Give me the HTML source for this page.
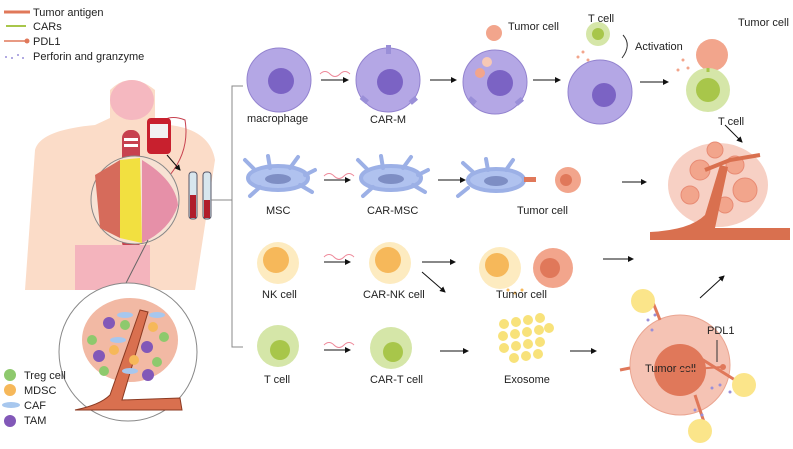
<!DOCTYPE html>
<html><head><meta charset="utf-8"><style>
body{margin:0;background:#fff}
svg{display:block;font-family:"Liberation Sans",Arial,sans-serif}
text{font-size:11px;fill:#222}
</style></head><body>
<svg width="793" height="449" viewBox="0 0 793 449">
<defs>
<marker id="ah" markerWidth="6" markerHeight="6" refX="5" refY="3" orient="auto"><path d="M0,0L6,3L0,6z" fill="#111"/></marker>
</defs>
<!-- legend top -->
<line x1="4" y1="12" x2="30" y2="12" stroke="#e0785a" stroke-width="3"/>
<text x="33" y="16" font-size="9">Tumor antigen</text>
<line x1="6" y1="26" x2="26" y2="26" stroke="#a8c64a" stroke-width="2"/>
<text x="33" y="30" font-size="9">CARs</text>
<line x1="4" y1="41" x2="26" y2="41" stroke="#e0785a" stroke-width="1.5"/><circle cx="27" cy="41" r="2.5" fill="#e0785a"/>
<text x="33" y="45" font-size="9">PDL1</text>
<g fill="#9a8fd8"><circle cx="6" cy="57" r="1"/><circle cx="12" cy="58" r="1"/><circle cx="18" cy="55" r="1"/><circle cx="23" cy="58" r="1"/></g>
<text x="33" y="60" font-size="9">Perforin and granzyme</text>
<!-- body -->
<path d="M25,290 L35,150 Q40,130 95,125 L110,118 L110,90 Q130,70 155,90 L155,118 L170,125 Q210,130 215,160 L195,290 Z" fill="#fbdcc8"/>
<ellipse cx="132" cy="100" rx="22" ry="20" fill="#f5b8c0"/>
<rect x="122" y="130" width="18" height="120" rx="8" fill="#c7414f"/>
<rect x="124" y="138" width="14" height="3" fill="#fff"/><rect x="124" y="144" width="14" height="3" fill="#fff"/>
<rect x="75" y="245" width="75" height="45" fill="#f4b4bd"/>
<path d="M150,140 Q160,110 185,120 Q190,150 170,175" fill="none" stroke="#c7414f" stroke-width="1"/>
<rect x="147" y="118" width="24" height="36" rx="4" fill="#c8202e"/>
<rect x="150" y="124" width="18" height="14" fill="#f2f2f2"/>
<circle cx="135" cy="200" r="44" fill="#f7e2d4" stroke="#888"/>
<path d="M120,160 L140,158 L142,243 L120,238 Z" fill="#f2e040"/>
<path d="M95,175 L120,160 L120,238 L100,228 Z" fill="#d66b5b"/>
<path d="M142,160 Q175,180 178,205 Q170,230 142,243 Z" fill="#e690a8"/>
<line x1="167" y1="155" x2="180" y2="170" stroke="#111" marker-end="url(#ah)"/>
<rect x="189" y="172" width="8" height="47" rx="3" fill="#d8e6ee" stroke="#556"/>
<rect x="203" y="172" width="8" height="47" rx="3" fill="#d8e6ee" stroke="#556"/>
<rect x="190" y="195" width="6" height="23" fill="#b01c2a"/><rect x="204" y="200" width="6" height="18" fill="#b01c2a"/>
<line x1="211" y1="200" x2="232" y2="200" stroke="#888"/>
<!-- bracket -->
<path d="M243,86 L232,86 L232,347 L243,347" fill="none" stroke="#888"/>
<!-- bottom circle -->
<line x1="123" y1="289" x2="148" y2="240" stroke="#666"/>
<circle cx="128" cy="352" r="69" fill="#fff" stroke="#888"/>
<ellipse cx="130" cy="340" rx="48" ry="42" fill="#f2b9a4"/>
<path d="M75,410 Q100,405 110,395 L140,310 L148,312 L122,400 L180,398 L182,410 Z" fill="#d9704f" stroke="#8b3a22"/>
<g fill="#8ec96d"><circle cx="125" cy="325" r="5"/><circle cx="92" cy="340" r="5"/><circle cx="164" cy="337" r="5"/><circle cx="157" cy="362" r="5"/><circle cx="104" cy="371" r="5"/></g>
<g fill="#f6b85a"><circle cx="153" cy="327" r="5"/><circle cx="114" cy="350" r="5"/><circle cx="134" cy="360" r="5"/></g>
<g fill="#8258b8"><circle cx="109" cy="323" r="6"/><circle cx="147" cy="347" r="6"/><circle cx="99" cy="356" r="6"/><circle cx="148" cy="375" r="6"/></g>
<g fill="#a7c7ee"><ellipse cx="125" cy="315" rx="8" ry="3"/><ellipse cx="157" cy="315" rx="8" ry="3"/><ellipse cx="118" cy="340" rx="8" ry="3"/><ellipse cx="130" cy="371" rx="8" ry="3"/></g>
<!-- legend bottom -->
<circle cx="10" cy="375" r="6" fill="#8ec96d"/><text x="24" y="379" font-size="9">Treg cell</text>
<circle cx="10" cy="390" r="6" fill="#f6b85a"/><text x="24" y="394" font-size="9">MDSC</text>
<ellipse cx="11" cy="405" rx="9" ry="3" fill="#a7c7ee"/><text x="24" y="409" font-size="9">CAF</text>
<circle cx="10" cy="421" r="6" fill="#8258b8"/><text x="24" y="424" font-size="9">TAM</text>
<!-- row 1 -->
<g fill="#b4a7e5" stroke="#9383cf"><circle cx="279" cy="80" r="32"/><circle cx="388" cy="80" r="32"/><circle cx="495" cy="82" r="32"/><circle cx="600" cy="92" r="32"/></g>
<g fill="#7b63c4"><circle cx="281" cy="81" r="13"/><circle cx="390" cy="82" r="13"/><circle cx="500" cy="83" r="13"/><circle cx="604" cy="95" r="12"/></g>
<g fill="#9a8fd8"><rect x="386" y="45" width="5" height="9"/><rect x="362" y="96" width="5" height="8" transform="rotate(-50 364 100)"/><rect x="411" y="96" width="5" height="8" transform="rotate(50 413 100)"/><rect x="470" y="97" width="5" height="8" transform="rotate(-50 472 101)"/><rect x="517" y="97" width="5" height="8" transform="rotate(50 519 101)"/></g>
<circle cx="494" cy="33" r="8" fill="#f2a58c"/>
<circle cx="480" cy="73" r="5" fill="#f2a58c"/><circle cx="487" cy="62" r="5" fill="#f7c8b6"/>
<circle cx="598" cy="34" r="12" fill="#d5e6a8"/><circle cx="598" cy="34" r="6" fill="#a8c64a"/>
<path d="M623,35 Q632,45 622,58" fill="none" stroke="#333"/>
<g fill="#f2a58c"><circle cx="583" cy="52" r="1.5"/><circle cx="578" cy="57" r="1.5"/><circle cx="588" cy="60" r="1.5"/><circle cx="683" cy="60" r="1.5"/><circle cx="688" cy="68" r="1.5"/><circle cx="678" cy="70" r="1.5"/></g>
<circle cx="712" cy="55" r="16" fill="#f2a58c"/>
<circle cx="708" cy="90" r="22" fill="#d5e6a8"/><circle cx="708" cy="90" r="12" fill="#a8c64a"/>
<line x1="708" y1="68" x2="708" y2="72" stroke="#a8c64a" stroke-width="3"/>
<text x="247" y="122">macrophage</text><text x="370" y="123">CAR-M</text>
<text x="508" y="30">Tumor cell</text><text x="588" y="22">T cell</text><text x="635" y="50">Activation</text>
<text x="738" y="26">Tumor cell</text><text x="718" y="125">T cell</text>
<!-- row 2 -->
<g fill="#b0c2ef" stroke="#9cb0e6" stroke-width="4" stroke-linecap="round">
<ellipse cx="278" cy="178" rx="30" ry="12"/><ellipse cx="391" cy="178" rx="30" ry="12"/><ellipse cx="496" cy="180" rx="28" ry="11"/>
<path d="M255,170 L245,160 M270,168 L268,156 M290,168 L298,157 M305,175 L315,170 M300,185 L312,192 M260,187 L250,196"/>
<path d="M368,170 L358,160 M383,168 L381,156 M403,168 L411,157 M418,175 L428,170 M413,185 L425,192 M373,187 L363,196"/>
<path d="M473,172 L463,163 M488,170 L486,159 M506,170 L513,160 M468,188 L458,196"/>
</g>
<g fill="#7e8ec4"><ellipse cx="278" cy="179" rx="13" ry="5"/><ellipse cx="391" cy="179" rx="13" ry="5"/><ellipse cx="496" cy="181" rx="12" ry="5"/></g>
<rect x="524" y="177" width="12" height="5" fill="#e0785a"/>
<circle cx="568" cy="180" r="13" fill="#f2a58c"/><circle cx="566" cy="180" r="6" fill="#e0785a"/>
<text x="266" y="214">MSC</text><text x="367" y="214">CAR-MSC</text><text x="517" y="214">Tumor cell</text>
<!-- row 3 -->
<g fill="#fdebc0"><circle cx="278" cy="263" r="21"/><circle cx="390" cy="263" r="21"/><circle cx="500" cy="268" r="21"/></g>
<g fill="#f6b85a"><circle cx="276" cy="260" r="13"/><circle cx="388" cy="260" r="13"/><circle cx="497" cy="265" r="12"/></g>
<circle cx="553" cy="268" r="20" fill="#f2a58c"/><circle cx="550" cy="268" r="10" fill="#e0785a"/>
<g fill="#f6b85a"><circle cx="508" cy="290" r="1.5"/><circle cx="515" cy="293" r="1.5"/><circle cx="522" cy="290" r="1.5"/></g>
<text x="262" y="298">NK cell</text><text x="363" y="298">CAR-NK cell</text><text x="496" y="298">Tumor cell</text>
<!-- row 4 -->
<g fill="#d5e6a8"><circle cx="278" cy="346" r="21"/><circle cx="391" cy="348" r="21"/></g>
<g fill="#a8c64a"><circle cx="280" cy="350" r="10"/><circle cx="393" cy="352" r="10"/></g>
<text x="264" y="383">T cell</text><text x="370" y="383">CAR-T cell</text>
<g fill="#f8e27a">
<circle cx="504" cy="324" r="5"/><circle cx="516" cy="322" r="5"/><circle cx="528" cy="320" r="5"/><circle cx="540" cy="318" r="5"/>
<circle cx="503" cy="336" r="5"/><circle cx="515" cy="334" r="5"/><circle cx="527" cy="332" r="5"/><circle cx="539" cy="330" r="5"/><circle cx="549" cy="328" r="5"/>
<circle cx="504" cy="348" r="5"/><circle cx="516" cy="346" r="5"/><circle cx="528" cy="344" r="5"/><circle cx="540" cy="342" r="5"/>
<circle cx="514" cy="358" r="5"/><circle cx="526" cy="356" r="5"/><circle cx="538" cy="354" r="5"/>
</g>
<text x="504" y="383">Exosome</text>
<!-- tumor mass -->
<ellipse cx="718" cy="185" rx="50" ry="42" fill="#f7d0c4"/>
<g fill="#f2a58c" stroke="#e88b74"><circle cx="700" cy="170" r="10"/><circle cx="735" cy="165" r="9"/><circle cx="745" cy="190" r="12"/><circle cx="690" cy="195" r="9"/><circle cx="715" cy="150" r="8"/><circle cx="725" cy="205" r="8"/></g>
<path d="M650,232 Q690,230 705,215 L720,165 L728,167 L715,228 L790,228 L790,240 L650,240 Z" fill="#d9704f"/>
<path d="M705,170 L730,160 L760,155" fill="none" stroke="#d9704f" stroke-width="4"/>
<!-- big tumor cell -->
<circle cx="680" cy="365" r="50" fill="#f5c3b4" stroke="#eaa591"/>
<circle cx="680" cy="370" r="26" fill="#e0785a"/>
<g stroke="#e0785a" stroke-width="3"><line x1="660" y1="320" x2="650" y2="295"/><line x1="695" y1="395" x2="705" y2="425"/><line x1="700" y1="358" x2="735" y2="380"/><line x1="630" y1="368" x2="620" y2="370"/></g>
<text x="645" y="372" font-size="14">Tumor cell</text>
<text x="707" y="334" font-size="11">PDL1</text>
<line x1="717" y1="340" x2="717" y2="362" stroke="#333"/>
<line x1="680" y1="370" x2="722" y2="367" stroke="#e0785a" stroke-width="2"/><circle cx="723" cy="367" r="3" fill="#e0785a"/>
<g fill="#fbe58a"><circle cx="643" cy="301" r="12"/><circle cx="744" cy="385" r="12"/><circle cx="700" cy="431" r="12"/></g>
<g fill="#9a8fd8"><circle cx="648" cy="320" r="1.5"/><circle cx="652" cy="330" r="1.5"/><circle cx="720" cy="385" r="1.5"/><circle cx="730" cy="392" r="1.5"/><circle cx="695" cy="410" r="1.5"/><circle cx="702" cy="415" r="1.5"/><circle cx="712" cy="388" r="1.5"/><circle cx="655" cy="315" r="1.5"/></g>
<!-- arrows -->
<g stroke="#111" stroke-width="1" marker-end="url(#ah)">
<line x1="321" y1="80" x2="348" y2="80"/><line x1="430" y1="80" x2="456" y2="80"/><line x1="533" y1="80" x2="560" y2="80"/><line x1="640" y1="82" x2="668" y2="82"/>
<line x1="725" y1="125" x2="742" y2="142"/>
<line x1="324" y1="180" x2="350" y2="180"/><line x1="438" y1="180" x2="465" y2="180"/><line x1="622" y1="182" x2="646" y2="182"/>
<line x1="324" y1="262" x2="350" y2="262"/><line x1="422" y1="262" x2="455" y2="262"/><line x1="603" y1="259" x2="633" y2="259"/>
<line x1="422" y1="272" x2="445" y2="292"/>
<line x1="700" y1="298" x2="724" y2="276"/>
<line x1="324" y1="350" x2="350" y2="350"/><line x1="440" y1="351" x2="468" y2="351"/><line x1="570" y1="351" x2="596" y2="351"/>
</g>
<g fill="none" stroke="#e89"><path d="M320,74 q5,-5 10,0 t10,0 t10,0"/><path d="M324,176 q5,-5 10,0 t10,0 t10,0"/><path d="M324,257 q5,-5 10,0 t10,0 t10,0"/><path d="M324,345 q5,-5 10,0 t10,0 t10,0"/></g>
</svg>
</body></html>
